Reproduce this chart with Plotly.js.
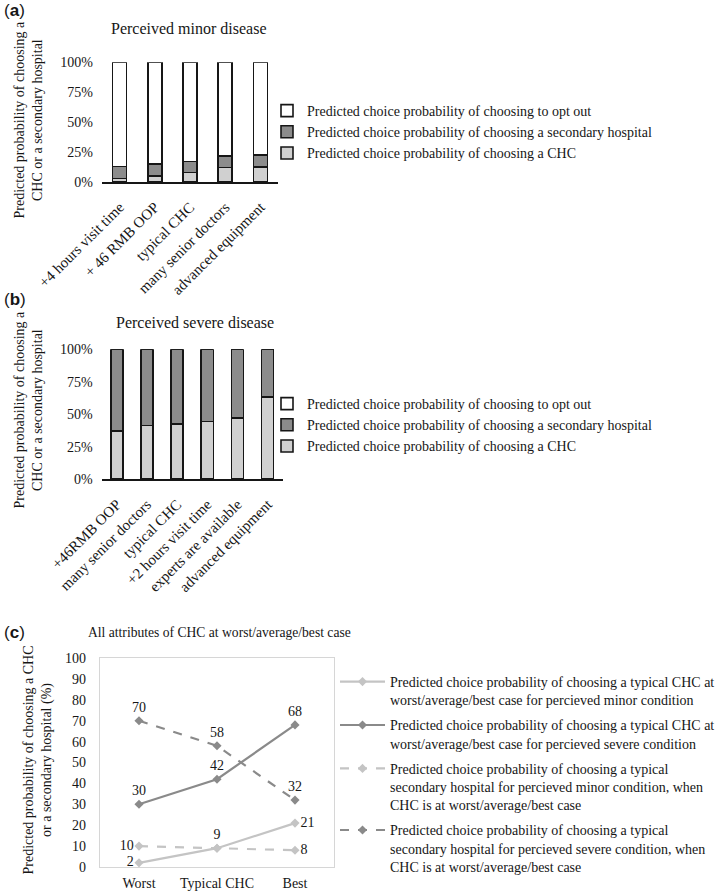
<!DOCTYPE html>
<html><head><meta charset="utf-8">
<script src="https://cdn.plot.ly/plotly-3.0.1.min.js"></script>
<style>html,body{margin:0;padding:0;background:#fff}#chart{width:724px;height:894px}</style>
</head><body><div id="chart"></div>
<script>
// ---------- data ----------
const catsA = ["+4 hours visit time", "+ 46 RMB OOP", "typical CHC", "many senior doctors", "advanced equipment"];
const chcA = [0.03, 0.05, 0.08, 0.12, 0.125];
const secA = [0.10, 0.10, 0.09, 0.095, 0.10];
const optA = [0.87, 0.85, 0.83, 0.785, 0.775];

const catsB = ["+46RMB OOP", "many senior doctors", "typical CHC", "+2 hours visit time", "experts are available", "advanced equipment"];
const chcB = [0.37, 0.415, 0.425, 0.445, 0.47, 0.635];
const secB = [0.63, 0.585, 0.575, 0.555, 0.53, 0.365];
const optB = [0, 0, 0, 0, 0, 0];

const barNames = [
  "Predicted choice probability of choosing a CHC",
  "Predicted choice probability of choosing a secondary hospital",
  "Predicted choice probability of choosing to opt out"
];

const catsC = ["Worst", "Typical CHC", "Best"];
const chcMinorC = [2, 9, 21];
const chcSevereC = [30, 42, 68];
const secMinorC = [10, 9, 8];
const secSevereC = [70, 58, 32];
const lineNames = [
  "Predicted choice probability of choosing a typical CHC at<br>worst/average/best case for percieved minor condition",
  "Predicted choice probability of choosing a typical CHC at<br>worst/average/best case for percieved severe condition",
  "Predicted choice probability of choosing a typical<br>secondary hospital for percieved minor condition, when<br>CHC is at worst/average/best case",
  "Predicted choice probability of choosing a typical<br>secondary hospital for percieved severe condition, when<br>CHC is at worst/average/best case"
];

// ---------- helpers ----------
const W = 724, H = 894;
const px = v => v / W;
const py = v => 1 - v / H;
const SERIF = "Liberation Serif, Times New Roman, serif";
const SANS = "Liberation Sans, Arial, sans-serif";
const INK = "#161616";
const LIGHT = "#d0d0d0", DARK = "#8c8c8c";
const LLIGHT = "#c4c4c4", LDARK = "#8a8a8a";

const barFill = [LIGHT, DARK, "#ffffff"];
function bars(cats, series, xa, ya, leg) {
  return series.map((vals, i) => ({
    type: "bar", x: cats, y: vals, name: barNames[i], xaxis: xa, yaxis: ya, legend: leg,
    marker: {color: barFill[i], line: {color: INK, width: 1.6}},
    hoverinfo: "skip"
  }));
}

const traces = [].concat(
  bars(catsA, [chcA, secA, optA], "x", "y", "legend"),
  bars(catsB, [chcB, secB, optB], "x2", "y2", "legend2")
);

const lineSpecs = [
  {y: chcMinorC, c: LLIGHT, dash: "solid", pos: ["middle left", "top center", "middle right"], lbl: [true, true, true]},
  {y: chcSevereC, c: LDARK, dash: "solid", pos: ["top center", "top center", "top center"], lbl: [true, true, true]},
  // the middle label of this series coincides with the one above, so it is drawn once
  {y: secMinorC, c: LLIGHT, dash: "dash", pos: ["middle left", "top center", "middle right"], lbl: [true, false, true]},
  {y: secSevereC, c: LDARK, dash: "dash", pos: ["top center", "top center", "top center"], lbl: [true, true, true]}
];
lineSpecs.forEach((s, i) => {
  traces.push({
    type: "scatter", mode: "lines+markers+text", x: catsC, y: s.y, name: lineNames[i],
    xaxis: "x3", yaxis: "y3", legend: "legend3", legendgroup: "g" + i,
    line: {color: s.c, width: 2.2, dash: s.dash},
    marker: {symbol: "diamond", size: 7, color: s.c},
    text: s.y.map((v, j) => s.lbl[j] ? String(v) : ""), textposition: s.pos,
    textfont: {family: SERIF, size: 14, color: INK},
    hoverinfo: "skip"
  });
});

const ann = (text, x, y, opt) => Object.assign({
  text, xref: "paper", yref: "paper", x: px(x), y: py(y), showarrow: false,
  xanchor: "left", yanchor: "middle", font: {family: SERIF, size: 14, color: INK}
}, opt || {});

const layout = {
  width: W, height: H,
  margin: {l: 0, r: 0, t: 0, b: 0},
  paper_bgcolor: "#ffffff", plot_bgcolor: "rgba(0,0,0,0)",
  font: {family: SERIF, size: 14, color: INK},
  barmode: "stack", bargap: 0.6,
  showlegend: true,
  xaxis: {domain: [px(102), px(278)], anchor: "y", type: "category", tickangle: -45,
    showline: true, linecolor: INK, linewidth: 1.5, ticks: "", showgrid: false,
    tickfont: {size: 15}, ticklabelstandoff: 9, fixedrange: true},
  yaxis: {domain: [py(182), py(62.3)], anchor: "x", range: [0, 1], dtick: 0.25, tickformat: ".0%",
    showgrid: false, zeroline: false, showline: false, ticks: "", tickfont: {size: 14},
    ticklabelstandoff: 8, fixedrange: true},
  xaxis2: {domain: [px(101.7), px(282.7)], anchor: "y2", type: "category", tickangle: -45,
    showline: true, linecolor: INK, linewidth: 1.5, ticks: "", showgrid: false,
    tickfont: {size: 15}, ticklabelstandoff: 9, fixedrange: true},
  yaxis2: {domain: [py(479.3), py(349.3)], anchor: "x2", range: [0, 1], dtick: 0.25, tickformat: ".0%",
    showgrid: false, zeroline: false, showline: false, ticks: "", tickfont: {size: 14},
    ticklabelstandoff: 8, fixedrange: true},
  xaxis3: {domain: [px(100), px(334)], anchor: "y3", type: "category", range: [-0.5, 2.5],
    showline: true, mirror: true, linecolor: "#d6d6d6", linewidth: 1.2, ticks: "", showgrid: false,
    tickfont: {size: 14}, ticklabelstandoff: 3, fixedrange: true},
  yaxis3: {domain: [py(867), py(658)], anchor: "x3", range: [0, 100], dtick: 10,
    showline: true, mirror: true, linecolor: "#d6d6d6", linewidth: 1.2, ticks: "", showgrid: false,
    zeroline: false, tickfont: {size: 14}, ticklabelstandoff: 10, fixedrange: true},
  legend: {x: px(267), xanchor: "left", y: py(95), yanchor: "top", traceorder: "reversed",
    font: {family: SERIF, size: 14, color: INK}, bgcolor: "rgba(0,0,0,0)", itemwidth: 30},
  legend2: {x: px(267), xanchor: "left", y: py(388), yanchor: "top", traceorder: "reversed",
    font: {family: SERIF, size: 14, color: INK}, bgcolor: "rgba(0,0,0,0)", itemwidth: 30},
  legend3: {x: px(335), xanchor: "left", y: py(666), yanchor: "top", traceorder: "grouped",
    tracegroupgap: 4, valign: "top", font: {family: SERIF, size: 14, color: INK},
    bgcolor: "rgba(0,0,0,0)", itemwidth: 45},
  annotations: [
    ann("(<b>a</b>)", 2, 11, {font: {family: SANS, size: 17, color: INK}}),
    ann("Perceived minor disease", 109, 28, {font: {family: SERIF, size: 16, color: INK}}),
    ann("Predicted probability of choosing a<br>CHC or a secondary hospital", 27.5, 120,
      {xanchor: "center", textangle: -90}),
    ann("(<b>b</b>)", 2, 300, {font: {family: SANS, size: 17, color: INK}}),
    ann("Perceived severe disease", 114, 322, {font: {family: SERIF, size: 16, color: INK}}),
    ann("Predicted probability of choosing a<br>CHC or a secondary hospital", 27.5, 410,
      {xanchor: "center", textangle: -90}),
    ann("(<b>c</b>)", 2, 632, {font: {family: SANS, size: 17, color: INK}}),
    ann("All attributes of CHC at worst/average/best case", 86, 632, {font: {family: SERIF, size: 13.6, color: INK}}),
    ann("Predicted probability of choosing a CHC<br>or a secondary hospital (%)", 37.5, 760,
      {xanchor: "center", textangle: -90})
  ]
};

Plotly.newPlot("chart", traces, layout, {displayModeBar: false, staticPlot: true});
</script>
</body></html>
